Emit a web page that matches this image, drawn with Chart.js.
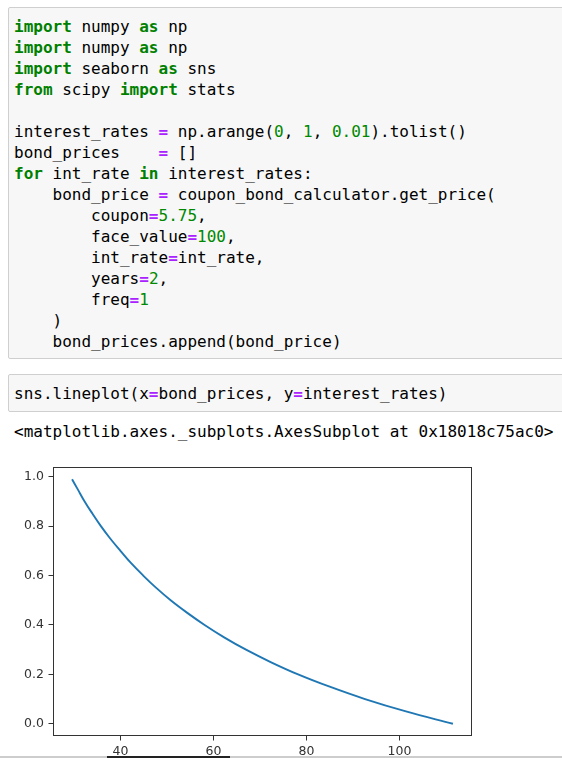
<!DOCTYPE html>
<html>
<head>
<meta charset="utf-8">
<script src="https://cdn.jsdelivr.net/npm/chart.js@4.4.1/dist/chart.umd.min.js"></script>
<style>
  html, body { margin: 0; padding: 0; background: #fff; }
  body { position: relative; width: 562px; height: 758px; overflow: hidden; }
  .cell {
    position: absolute; left: 8px; right: -20px;
    background: #f7f7f7; border: 1px solid #cfcfcf; border-radius: 2px;
  }
  pre {
    margin: 0; font-family: "DejaVu Sans Mono", monospace; font-size: 16px;
    line-height: 21px; color: #000; white-space: pre;
  }
  .cell pre { padding-left: 5px; }
  .k { color: #008000; font-weight: bold; }
  .o { color: #aa22ff; font-weight: bold; }
  .n { color: #008800; }
  #out { position: absolute; left: 14px; top: 421px; }
  #wrap { position: absolute; left: 0; top: 455px; width: 480px; height: 320px; }
  .bar { position: absolute; top: 756px; height: 2px; }
</style>
</head>
<body>
<div class="cell" style="top:7px;height:350px;"><pre style="padding-top:7.5px;"><span class="k">import</span> numpy <span class="k">as</span> np
<span class="k">import</span> numpy <span class="k">as</span> np
<span class="k">import</span> seaborn <span class="k">as</span> sns
<span class="k">from</span> scipy <span class="k">import</span> stats

interest_rates <span class="o">=</span> np.arange(<span class="n">0</span>, <span class="n">1</span>, <span class="n">0.01</span>).tolist()
bond_prices    <span class="o">=</span> []
<span class="k">for</span> int_rate <span class="k">in</span> interest_rates:
    bond_price <span class="o">=</span> coupon_bond_calculator.get_price(
        coupon<span class="o">=</span><span class="n">5.75</span>,
        face_value<span class="o">=</span><span class="n">100</span>,
        int_rate<span class="o">=</span>int_rate,
        years<span class="o">=</span><span class="n">2</span>,
        freq<span class="o">=</span><span class="n">1</span>
    )
    bond_prices.append(bond_price)</pre></div>

<div class="cell" style="top:374px;height:36px;"><pre style="padding-top:8px;">sns.lineplot(x<span class="o">=</span>bond_prices, y<span class="o">=</span>interest_rates)</pre></div>

<pre id="out">&lt;matplotlib.axes._subplots.AxesSubplot at 0x18018c75ac0&gt;</pre>

<div id="wrap"><canvas id="chart"></canvas></div>

<div class="bar" style="left:0;width:562px;background:#cdcdcd;"></div>
<div class="bar" style="left:107px;width:123px;background:#222;"></div>

<script>
// values (interest rate -> bond price)
const interestRates = [0, 0.05, 0.10, 0.15, 0.20, 0.25, 0.30, 0.35, 0.40, 0.45, 0.50,
                       0.55, 0.60, 0.65, 0.70, 0.75, 0.80, 0.85, 0.90, 0.95, 0.99];
const bondPrices = [111.5, 101.4, 92.6, 85.0, 78.2, 72.3, 67.0, 62.3, 58.1, 54.3, 50.8,
                    47.7, 44.9, 42.3, 40.0, 37.8, 35.8, 34.0, 32.3, 30.8, 29.6];
const xTicks = [40, 60, 80, 100];
const yTicks = [0, 0.2, 0.4, 0.6, 0.8, 1.0];

const points = interestRates.map((r, i) => ({ x: bondPrices[i], y: r }));

// matplotlib-style box around the axes
const frame = {
  id: 'frame',
  afterDatasetsDraw(chart) {
    const { ctx, chartArea: a } = chart;
    ctx.save();
    ctx.strokeStyle = '#333';
    ctx.lineWidth = 1;
    ctx.strokeRect(Math.round(a.left) + 0.5, Math.round(a.top) + 0.5,
      Math.round(a.right - a.left) - 1, Math.round(a.bottom - a.top) - 1);
    ctx.restore();
  }
};

const tickFont = { family: 'DejaVu Sans', size: 12.5 };

new Chart(document.getElementById('chart'), {
  type: 'scatter',
  data: {
    datasets: [{
      data: points,
      showLine: true,
      borderColor: '#1f77b4',
      borderWidth: 1.9,
      pointRadius: 0,
      tension: 0.4,
      fill: false
    }]
  },
  options: {
    responsive: true,
    maintainAspectRatio: false,
    animation: false,
    layout: { padding: { top: 9, right: 8, left: 0, bottom: 0 } },
    plugins: { legend: { display: false }, tooltip: { enabled: false } },
    scales: {
      x: {
        type: 'linear',
        min: 25.5,
        max: 115.6,
        afterBuildTicks: s => { s.ticks = xTicks.map(v => ({ value: v })); },
        afterFit: s => { s.height = 39; },
        grid: { drawOnChartArea: false, drawTicks: true, tickLength: 4.5, color: '#333' },
        border: { display: false },
        ticks: { font: tickFont, color: '#333', padding: 3.5, maxRotation: 0 }
      },
      y: {
        type: 'linear',
        min: -0.0495,
        max: 1.0395,
        afterBuildTicks: s => { s.ticks = yTicks.map(v => ({ value: v })); },
        afterFit: s => { s.width = 53; },
        grid: { drawOnChartArea: false, drawTicks: true, tickLength: 4.5, color: '#333' },
        border: { display: false },
        ticks: { font: tickFont, color: '#333', padding: 4.5, callback: v => v.toFixed(1) }
      }
    }
  },
  plugins: [frame]
});
</script>
</body>
</html>
